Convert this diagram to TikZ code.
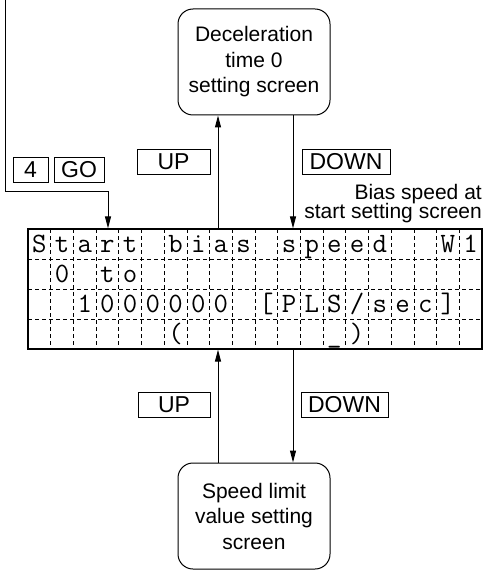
\documentclass[tikz,border=0pt]{standalone}
\usepackage{fontspec}
\setmainfont{Liberation Sans}
\usetikzlibrary{arrows.meta}
\begin{document}
\begin{tikzpicture}[x=1pt,y=-1pt,
  every node/.style={font=\fontsize{21}{25.5}\selectfont},
  screenbox/.style={draw,rounded corners=15pt,line width=1pt,minimum width=152pt,minimum height=106pt,align=center,inner sep=0pt},
  keybox/.style={draw,line width=1pt,minimum height=25pt,inner sep=0pt,font=\fontsize{23}{25}\selectfont},
  arr/.style={line width=1pt,-{Triangle[length=12pt,width=6pt]}},
  lcdch/.style={font=\ttfamily\fontsize{28}{28}\selectfont,anchor=base,inner sep=0pt},
  cellline/.style={line width=0.8pt,dash pattern=on 4pt off 3pt},
  plaintext/.style={anchor=base east,inner sep=0pt}
]
\useasboundingbox (0,0) rectangle (486,572);

\node[screenbox] (decel) at (254,62) {Deceleration\\time 0\\setting screen};
\node[screenbox] (speed) at (254,516) {Speed limit\\value setting\\screen};
\node[draw,line width=1.2pt,minimum width=454pt,minimum height=120pt,inner sep=0pt] (lcd) at (255,289) {};

\foreach \i in {1,...,19} \draw[cellline] ({28+\i*22.7},229) -- ({28+\i*22.7},349);
\foreach \y in {259,289,319} \draw[cellline] (28,\y) -- (482,\y);

\foreach \i/\c in {0/S,1/t,2/a,3/r,4/t,6/b,7/i,8/a,9/s,11/s,12/p,13/e,14/e,15/d,18/W,19/1}
  \node[lcdch] (ra\i) at ({28+22.7*\i+11.35},252.5) {\c};
\foreach \i/\c in {1/0,3/t,4/o}
  \node[lcdch] (rb\i) at ({28+22.7*\i+11.35},282.5) {\c};
\foreach \i/\c in {2/1,3/0,4/0,5/0,6/0,7/0,8/0,10/[,11/P,12/L,13/S,14/{/},15/s,16/e,17/c,18/]}
  \node[lcdch] (rc\i) at ({28+22.7*\i+11.35},312.5) {\c};
\foreach \i/\c in {6/(,13/\_,14/)}
  \node[lcdch] (rd\i) at ({28+22.7*\i+11.35},342.5) {\c};

\node[keybox,minimum width=35pt] (k4) at (30.5,170) {4};
\node[keybox,minimum width=50pt] (kgo) at (79,170) {GO};
\node[keybox,minimum width=73pt] (up1) at (173.5,162) {UP};
\node[keybox,minimum width=88pt] (down1) at (346,162) {DOWN};
\node[keybox,minimum width=72pt] (up2) at (174,405) {UP};
\node[keybox,minimum width=87pt] (down2) at (344.5,405) {DOWN};

\node[plaintext] (bias1) at (482,199) {Bias speed at};
\node[plaintext] (bias2) at (482,218) {start setting screen};

\coordinate (entry) at (5,0);
\coordinate (bend) at (108,191);
\coordinate (ux) at (218,0);
\coordinate (dx) at (293,0);
\draw[arr] (entry) |- (bend) -- (bend |- lcd.north);
\draw[arr] (ux |- lcd.north) -- (ux |- decel.south);
\draw[arr] (dx |- decel.south) -- (dx |- lcd.north);
\draw[arr] (ux |- speed.north) -- (ux |- lcd.south);
\draw[arr] (dx |- lcd.south) -- (dx |- speed.north);
\end{tikzpicture}
\end{document}
